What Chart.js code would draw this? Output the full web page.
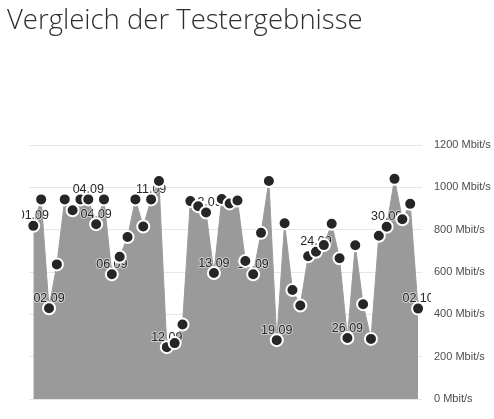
<!DOCTYPE html>
<html>
<head>
<meta charset="utf-8">
<script src="https://cdn.jsdelivr.net/npm/chart.js@4/dist/chart.umd.min.js"></script>
<style>
html,body{margin:0;padding:0;background:#fff;overflow:hidden;width:494px;height:419px}
#wrap{position:absolute;left:0;top:0;width:494px;height:419px}
#title{position:absolute;left:7px;top:0px;font-family:"Open Sans",sans-serif;font-weight:300;font-size:27.5px;color:#2e2e2e;white-space:nowrap;line-height:38px}
</style>
</head>
<body>
<div id="wrap"><canvas id="c" width="494" height="419"></canvas></div>
<div id="title">Vergleich der Testergebnisse</div>
<script>
// Date labels shown above individual test results ("" = no label)
const dateLabels = [
  "01.09","","02.09","","","","","04.09","04.09","",
  "06.09","","","","","11.09","","12.09","","",
  "","","13.09","13.09","","","","","17.09","",
  "","19.09","","","","","24.09","","","",
  "26.09","","","","","30.09","","","","02.10"
];
// Measured download speed per test (Mbit/s)
const downloadValues = [
  818, 943, 429, 636, 943, 892, 943, 943, 826, 943,
  589, 672, 765, 943, 815, 943, 1030, 245, 264, 352,
  935, 911, 881, 595, 945, 924, 938, 652, 589, 785,
  1030, 278, 830, 515, 442, 674, 696, 727, 828, 665,
  288, 726, 448, 284, 771, 814, 1040, 849, 922, 427
];
const yMin = 0;
const yMax = 1200;
const yStep = 200;
const yUnit = " Mbit/s";

const labelPlugin = {
  id: "pointDateLabels",
  beforeDatasetDraw(chart, args) {
    const meta = chart.getDatasetMeta(args.index);
    const ctx = chart.ctx;
    ctx.save();
    ctx.beginPath();
    ctx.rect(22, 0, 409, chart.height);
    ctx.clip();
    ctx.font = '12.5px "Liberation Sans", Arial, sans-serif';
    ctx.textAlign = "center";
    ctx.textBaseline = "alphabetic";
    meta.data.forEach((pt, i) => {
      const t = dateLabels[i];
      if (!t) return;
      ctx.lineJoin = "round";
      ctx.lineWidth = 2;
      ctx.strokeStyle = "rgba(255,255,255,0.5)";
      ctx.strokeText(t, pt.x, pt.y - 6.5);
      ctx.fillStyle = "#262626";
      ctx.fillText(t, pt.x, pt.y - 6.5);
    });
    ctx.restore();
  }
};

new Chart(document.getElementById("c"), {
  type: "line",
  data: {
    labels: dateLabels,
    datasets: [{
      data: downloadValues,
      fill: "origin",
      backgroundColor: "#9a9a9a",
      borderColor: "#9a9a9a",
      borderWidth: 1,
      tension: 0,
      pointRadius: 6,
      pointHoverRadius: 6,
      pointBorderWidth: 2,
      pointBackgroundColor: "#262626",
      pointBorderColor: "#ffffff"
    }]
  },
  options: {
    responsive: false,
    devicePixelRatio: 1,
    animation: false,
    layout: { padding: { left: 29.4, right: 0, top: 145, bottom: 20 } },
    plugins: {
      legend: { display: false },
      tooltip: { enabled: false },
      title: { display: false }
    },
    scales: {
      x: {
        type: "category",
        offset: true,
        display: false
      },
      y: {
        position: "right",
        min: yMin,
        max: yMax,
        ticks: {
          stepSize: yStep,
          padding: 12,
          color: "#4d4d4d",
          font: { family: '"Liberation Sans", Arial, sans-serif', size: 11 },
          callback: v => v + yUnit
        },
        grid: { color: "#e6e6e6", drawTicks: false, lineWidth: 1 },
        border: { display: false },
        afterFit: s => { s.width = 72; }
      }
    }
  },
  plugins: [labelPlugin]
});
</script>
</body>
</html>
